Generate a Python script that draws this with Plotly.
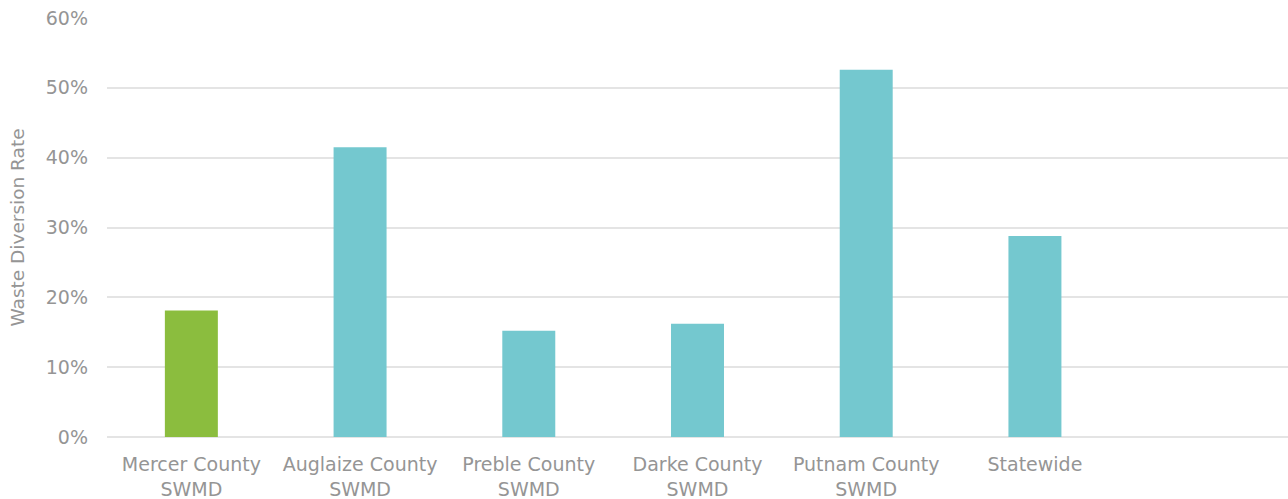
import plotly.graph_objects as go

categories = ["Mercer County<br>SWMD", "Auglaize County<br>SWMD", "Preble County<br>SWMD",
              "Darke County<br>SWMD", "Putnam County<br>SWMD", "Statewide", " "]
values = [0.181, 0.415, 0.152, 0.162, 0.526, 0.288, None]
colors = ["#8BBD3E", "#74C8CF", "#74C8CF", "#74C8CF", "#74C8CF", "#74C8CF", "#74C8CF"]
y_ticks = [0, 0.1, 0.2, 0.3, 0.4, 0.5, 0.6]

FONT = "DejaVu Sans"
GREY = "#959595"

fig = go.Figure(go.Bar(x=categories, y=values, marker=dict(color=colors, line=dict(width=0))))

fig.update_layout(
    width=1288, height=499,
    margin=dict(l=107, r=0, t=18, b=62),
    paper_bgcolor="white", plot_bgcolor="white",
    bargap=0.686,
    showlegend=False,
    font=dict(family=FONT, color=GREY, size=19),
)
fig.update_xaxes(
    type="category", categoryorder="array", categoryarray=categories,
    range=[-0.5, 6.5], showgrid=False, showline=False,
    tickfont=dict(size=19, color=GREY), ticklabelstandoff=14,
)
fig.update_yaxes(
    range=[0, 0.6], tickvals=y_ticks, tickformat=".0%",
    showgrid=True, gridcolor="#e4e4e4", gridwidth=1.5,
    zeroline=True, zerolinecolor="#e4e4e4", zerolinewidth=1.5,
    tickfont=dict(size=19, color=GREY), ticklabelstandoff=18,
    title=dict(text="Waste Diversion Rate", font=dict(size=18.5, color=GREY), standoff=16),
)

fig.write_html("out.html")
